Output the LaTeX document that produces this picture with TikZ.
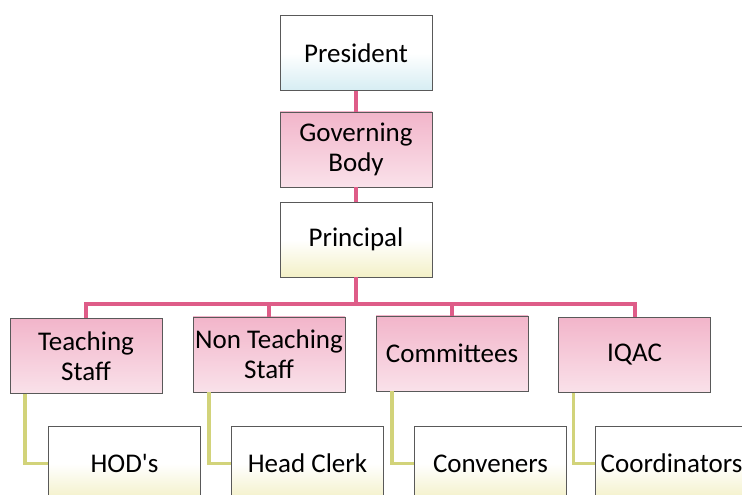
\documentclass[tikz,border=0pt]{standalone}
\usepackage{fontspec}
\setmainfont{Carlito}
\usetikzlibrary{positioning}
\definecolor{boxpink}{HTML}{F2B5CA}
\definecolor{boxcream}{HTML}{F3F0C6}
\definecolor{boxsky}{HTML}{D6EDF3}
\definecolor{linkpink}{HTML}{DE5C88}
\definecolor{linkolive}{HTML}{D2D37A}
\tikzset{
    org-box/.style = {draw=black!65, thin, rectangle, minimum width=152pt, minimum height=75pt, inner sep=2pt, align=center, font=\fontsize{27}{30}\selectfont},
    pink-box/.style = {org-box, top color=boxpink, bottom color=boxpink!40},
    cream-box/.style = {org-box, top color=white, bottom color=boxcream, middle color=white},
    sky-box/.style = {org-box, top color=white, bottom color=boxsky, middle color=white},
    pink-link/.style = {draw=linkpink, line width=4pt},
    olive-link/.style = {draw=linkolive, line width=3.5pt},
}
\begin{document}
\begin{tikzpicture}[x=1pt, y=1pt]
\clip (0,0) rectangle (742,495);
% top of the chart
\node [sky-box] (pres) at (356,442) {President};
\node [pink-box, below=21pt of pres] (gov) {Governing\\Body};
\node [cream-box, below=15pt of gov] (prin) {Principal};
% second level
\node [pink-box] (teach) at (86,139) {Teaching\\Staff};
\node [pink-box] (nonteach) at (269,140.5) {Non Teaching\\Staff};
\node [pink-box] (comm) at (452,141.5) {Committees};
\node [pink-box] (iqac) at (634.5,140) {IQAC};
% third level
\node [cream-box] (hod) at (124.5,31.5) {HOD\textquotesingle s};
\node [cream-box] (clerk) at (307.5,31.5) {Head Clerk};
\node [cream-box] (conv) at (490.5,31.5) {Conveners};
\node [cream-box] (coord) at (671.5,31.5) {Coordinators};
% links
\draw [pink-link] (pres.south) -- (gov.north);
\draw [pink-link] (gov.south) -- (prin.north);
\coordinate (bus) at ([yshift=-27pt]prin.south);
\draw [pink-link] (prin.south) -- (bus);
\foreach \n in {teach, nonteach, comm, iqac}
    \draw [pink-link] (bus) -| (\n.north);
\draw [olive-link] ([xshift=15pt]teach.south west) |- (hod.west);
\draw [olive-link] ([xshift=16pt]nonteach.south west) |- (clerk.west);
\draw [olive-link] ([xshift=16pt]comm.south west) |- (conv.west);
\draw [olive-link] ([xshift=15pt]iqac.south west) |- (coord.west);
\end{tikzpicture}
\end{document}
